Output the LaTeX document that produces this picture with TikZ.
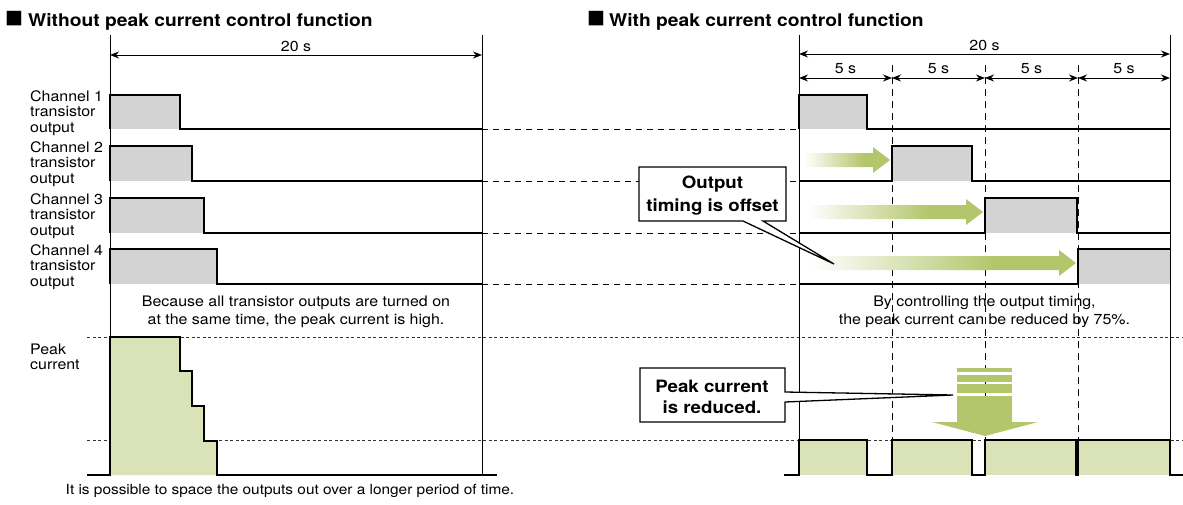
\documentclass[tikz,border=0pt]{standalone}
\usepackage{fontspec}
\setmainfont[FakeStretch=1.1]{TeX Gyre Heros}
\newfontfamily\symf{DejaVu Sans}
\usetikzlibrary{arrows.meta}
\definecolor{grayfill}{HTML}{D3D3D3}
\definecolor{peakfill}{HTML}{DAE2B7}
\definecolor{agreen}{HTML}{B4C66C}
\pgfdeclarehorizontalshading{fadegreen}{100bp}{color(0bp)=(white); color(27bp)=(white); color(60bp)=(agreen); color(100bp)=(agreen)}
\begin{document}
\begin{tikzpicture}[x=1pt,y=-1pt,
  sig/.style={line width=2.6pt, line join=miter, line cap=butt},
  frame/.style={line width=1pt},
  dashline/.style={line width=1pt, dash pattern=on 6pt off 5pt},
  divline/.style={line width=1pt, dash pattern=on 7pt off 5pt},
  dotline/.style={line width=0.9pt, black!80, dash pattern=on 3pt off 2.5pt},
  dimarrow/.style={line width=1pt, arrows={Stealth[length=9pt,width=7pt]-Stealth[length=9pt,width=7pt]}},
  body/.style={font=\fontsize{14.5}{15.5}\selectfont, inner sep=0pt},
  chlabel/.style={body, align=left, anchor=west},
  note/.style={font=\fontsize{14.5}{17.5}\selectfont, inner sep=0pt, align=center},
  headtext/.style={font=\bfseries\fontsize{17.5}{20}\selectfont, inner sep=0pt, anchor=base west},
  sqmark/.style={font=\symf\fontsize{19}{19}\selectfont, inner sep=0pt},
  callout/.style={draw, line width=1.3pt, fill=white, line join=miter},
  callouttext/.style={font=\bfseries\fontsize{17}{23}\selectfont, align=center, inner sep=0pt},
  gradarrow/.style={shading=fadegreen},
  bigarrow/.style={fill=agreen, draw=none}
]
\useasboundingbox (0,0) rectangle (1183,504);

% frame coordinates
\coordinate (LT) at (110,35);  \coordinate (LB) at (110,475);
\coordinate (RT) at (482,35);  \coordinate (RB) at (482,475);
\coordinate (PT) at (799,35);  \coordinate (PB) at (799,475);
\coordinate (QT) at (1170,35); \coordinate (QB) at (1170,475);

% dotted reference lines
\coordinate (d1a) at (87,337);  \coordinate (d1b) at (1183,337);
\coordinate (d2a) at (87,440);  \coordinate (d2b) at (1183,440);
\draw[dotline] (d1a) -- (d1b);
\draw[dotline] (d2a) -- (d2b);

% dashed connectors between charts
\foreach \y/\n in {129/1,181/2,233/3,284/4}{
  \coordinate (ca\n) at (482,\y); \coordinate (cb\n) at (799,\y);
  \draw[dashline] (ca\n) -- (cb\n);
}

% dashed dividers
\foreach \x/\n in {892/1,985/2,1078/3}{
  \coordinate (va\n) at (\x,65); \coordinate (vb\n) at (\x,440);
  \draw[divline] (va\n) -- (vb\n);
}

% fills left
\fill[grayfill] (110,95) rectangle (180,129);
\fill[grayfill] (110,146) rectangle (192,181);
\fill[grayfill] (110,198) rectangle (204,233);
\fill[grayfill] (110,249) rectangle (217,284);
\fill[peakfill] (110,475) -- (110,337) -- (180,337) -- (180,371) -- (192,371) -- (192,406) -- (204,406) -- (204,441) -- (217,441) -- (217,475) -- cycle;
% fills right
\fill[grayfill] (799,95) rectangle (867,129);
\fill[grayfill] (892,146) rectangle (972,181);
\fill[grayfill] (985,198) rectangle (1077,233);
\fill[grayfill] (1078,249) rectangle (1170,284);
\fill[peakfill] (799,440) rectangle (867,475);
\fill[peakfill] (892,440) rectangle (972,475);
\fill[peakfill] (985,440) rectangle (1076,475);
\fill[peakfill] (1078,440) rectangle (1170,475);

% frame lines
\draw[frame] (LT) -- (LB);
\draw[frame] (RT) -- (RB);
\draw[frame] (PT) -- (PB);
\draw[frame] (QT) -- (QB);

% dimension arrows
\draw[dimarrow] (110,55) -- (482,55);
\node[body] (t20L) at (296,46) {20 s};
\draw[dimarrow] (799,54) -- (1170,54);
\node[body] (t20R) at (984.5,45) {20 s};
\draw[dimarrow] (799,78) -- (892,78);
\draw[dimarrow] (892,78) -- (985,78);
\draw[dimarrow] (985,78) -- (1078,78);
\draw[dimarrow] (1078,78) -- (1170,78);
\node[body] (t5a) at (845.5,69) {5 s};
\node[body] (t5b) at (938.5,69) {5 s};
\node[body] (t5c) at (1031.5,69) {5 s};
\node[body] (t5d) at (1124,69) {5 s};

% gradient arrows
\shade[gradarrow] (801,153) -- (873,153) -- (873,147) -- (890,160) -- (873,173) -- (873,167) -- (801,167) -- cycle;
\shade[gradarrow] (801,205) -- (966,205) -- (966,199) -- (983,212) -- (966,225) -- (966,219) -- (801,219) -- cycle;
\shade[gradarrow] (801,256) -- (1059,256) -- (1059,250) -- (1076,263) -- (1059,276) -- (1059,270) -- (801,270) -- cycle;

% big down arrow
\fill[bigarrow] (957,368) rectangle (1012,372);
\fill[bigarrow] (957,375) rectangle (1012,382);
\fill[bigarrow] (957,384) rectangle (1012,393);
\fill[bigarrow] (957,396) -- (1012,396) -- (1012,422) -- (1038,422) -- (985,436) -- (932,422) -- (957,422) -- cycle;

% signals left
\draw[sig] (110,129) -- (110,95) -- (180,95) -- (180,129) -- (482,129);
\draw[sig] (110,181) -- (110,146) -- (192,146) -- (192,181) -- (482,181);
\draw[sig] (110,233) -- (110,198) -- (204,198) -- (204,233) -- (482,233);
\draw[sig] (110,284) -- (110,249) -- (217,249) -- (217,284) -- (482,284);
\draw[sig] (87,475) -- (110,475) -- (110,337) -- (180,337) -- (180,371) -- (192,371) -- (192,406) -- (204,406) -- (204,441) -- (217,441) -- (217,475) -- (497,475);
% signals right
\draw[sig] (799,129) -- (799,95) -- (867,95) -- (867,129) -- (1170,129);
\draw[sig] (799,181) -- (892,181) -- (892,146) -- (972,146) -- (972,181) -- (1170,181);
\draw[sig] (799,233) -- (985,233) -- (985,198) -- (1077,198) -- (1077,233) -- (1170,233);
\draw[sig] (799,284) -- (1078,284) -- (1078,249) -- (1170,249);
\draw[sig] (784,475) -- (799,475) -- (799,440) -- (867,440) -- (867,475) -- (892,475) -- (892,440) -- (972,440) -- (972,475) -- (985,475) -- (985,440) -- (1076,440) -- (1076,475) -- (1078,475) -- (1078,440) -- (1170,440) -- (1170,475) -- (1183,475);

% callouts
\draw[callout] (639,167) -- (786,167) -- (786,221) -- (763,221) -- (834,264) -- (743,221) -- (639,221) -- cycle;
\node[callouttext] (c1) at (712.5,196) {Output\\timing is offset};
\draw[callout] (640,368) -- (785,368) -- (785,392) -- (953,395) -- (785,402) -- (785,422) -- (640,422) -- cycle;
\node[callouttext, font=\bfseries\fontsize{17}{21}\selectfont] (c2) at (712,397) {Peak current\\is reduced.};

% headers
\node[sqmark] (sqL) at (14,19) {■};
\node[headtext] (hL) at (28,26) {Without peak current control function};
\node[sqmark] (sqR) at (596,19) {■};
\node[headtext] (hR) at (609,26) {With peak current control function};

% channel labels
\node[chlabel] (l1) at (30,113) {Channel 1\\transistor\\output};
\node[chlabel] (l2) at (30,164) {Channel 2\\transistor\\output};
\node[chlabel] (l3) at (30,216) {Channel 3\\transistor\\output};
\node[chlabel] (l4) at (30,267) {Channel 4\\transistor\\output};
\node[chlabel] (lp) at (30,357) {Peak\\current};

% notes
\node[note] (nL) at (296,312) {Because all transistor outputs are turned on\\at the same time, the peak current is high.};
\node[note] (nR) at (984.5,312) {By controlling the output timing,\\the peak current can be reduced by 75\%.};
\node[body, font=\fontsize{14}{15.5}\selectfont] (nB) at (290,491) {It is possible to space the outputs out over a longer period of time.};
\end{tikzpicture}
\end{document}
